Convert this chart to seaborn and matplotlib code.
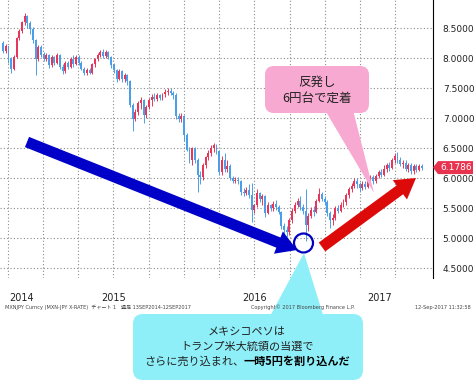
import numpy as np
import pandas as pd
import matplotlib
matplotlib.use("Agg")
import matplotlib.pyplot as plt
import matplotlib.dates as mdates
import matplotlib.ticker as ticker
from matplotlib.patches import FancyBboxPatch, Polygon, Circle, FancyArrow
import seaborn as sns

# MXN/JPY weekly candles
first_week = "2014-09-19"
opens = [8.26, 8.12, 8.20, 8.00, 7.82, 8.02, 8.33, 8.45, 8.60, 8.70,
         8.58, 8.48, 8.30, 7.98, 8.18, 8.05, 7.98, 8.06, 7.88, 8.02,
         7.92, 8.06, 7.86, 7.78, 7.92, 7.85, 7.98, 7.90, 8.02, 7.92,
         7.82, 7.76, 7.80, 7.76, 7.90, 7.98, 8.05, 8.10, 8.04, 8.10,
         8.02, 7.88, 7.80, 7.66, 7.78, 7.66, 7.72, 7.62, 7.22, 6.98,
         7.10, 7.25, 7.30, 7.05, 7.18, 7.30, 7.36, 7.32, 7.38, 7.33,
         7.40, 7.44, 7.46, 7.42, 7.38, 7.04, 6.98, 7.04, 6.72, 6.48,
         6.30, 6.50, 6.30, 6.05, 6.02, 6.22, 6.35, 6.42, 6.50, 6.55,
         6.45, 6.10, 6.30, 6.15, 6.20, 6.00, 5.96, 5.98, 5.95, 5.78,
         5.76, 5.80, 5.72, 5.48, 5.55, 5.76, 5.66, 5.70, 5.42, 5.55,
         5.50, 5.58, 5.52, 5.44, 5.20, 5.14, 5.10, 5.30, 5.46, 5.56,
         5.62, 5.52, 5.46, 5.22, 5.38, 5.48, 5.44, 5.62, 5.74, 5.66,
         5.60, 5.42, 5.30, 5.34, 5.50, 5.46, 5.56, 5.60, 5.72, 5.82,
         5.88, 5.96, 5.90, 5.84, 5.90, 5.86, 5.96, 6.02, 5.96, 6.04,
         6.10, 6.06, 6.16, 6.22, 6.18, 6.30, 6.38, 6.30, 6.24, 6.26,
         6.16, 6.22, 6.12, 6.20, 6.14, 6.20]
highs = [8.28, 8.23, 8.21, 8.02, 8.05, 8.36, 8.48, 8.62, 8.75, 8.72,
         8.62, 8.52, 8.32, 8.22, 8.22, 8.10, 8.08, 8.07, 8.05, 8.04,
         8.08, 8.07, 7.90, 7.95, 7.96, 8.02, 8.05, 8.05, 8.06, 7.95,
         7.85, 7.84, 7.84, 7.92, 8.00, 8.08, 8.14, 8.16, 8.14, 8.12,
         8.04, 7.92, 7.82, 7.82, 7.80, 7.76, 7.74, 7.64, 7.26, 7.15,
         7.28, 7.36, 7.32, 7.22, 7.34, 7.40, 7.42, 7.42, 7.40, 7.42,
         7.48, 7.50, 7.50, 7.46, 7.42, 7.08, 7.08, 7.06, 6.76, 6.52,
         6.52, 6.52, 6.34, 6.12, 6.26, 6.38, 6.47, 6.55, 6.59, 6.57,
         6.48, 6.38, 6.42, 6.30, 6.24, 6.04, 6.02, 6.02, 5.97, 5.84,
         5.86, 5.90, 5.92, 5.58, 5.82, 5.78, 5.74, 5.72, 5.60, 5.58,
         5.62, 5.64, 5.56, 5.46, 5.26, 5.20, 5.34, 5.50, 5.60, 5.68,
         5.70, 5.58, 5.82, 5.42, 5.52, 5.54, 5.66, 5.84, 5.78, 5.70,
         5.64, 5.46, 5.40, 5.54, 5.56, 5.60, 5.66, 5.76, 5.86, 5.92,
         6.00, 6.00, 5.94, 5.95, 5.96, 6.00, 6.06, 6.06, 6.08, 6.14,
         6.15, 6.22, 6.26, 6.28, 6.34, 6.42, 6.44, 6.36, 6.30, 6.30,
         6.26, 6.25, 6.24, 6.24, 6.24, 6.24]
lows = [8.08, 8.08, 7.92, 7.76, 7.80, 8.00, 8.30, 8.42, 8.55, 8.50,
        8.40, 8.25, 7.72, 7.95, 8.02, 7.95, 7.95, 7.84, 7.86, 7.88,
        7.90, 7.82, 7.74, 7.76, 7.82, 7.84, 7.86, 7.88, 7.88, 7.80,
        7.72, 7.72, 7.73, 7.74, 7.86, 7.95, 8.02, 8.00, 8.00, 7.98,
        7.84, 7.76, 7.60, 7.64, 7.60, 7.60, 7.56, 7.18, 6.78, 6.95,
        7.05, 7.16, 6.92, 7.00, 7.15, 7.20, 7.28, 7.28, 7.30, 7.30,
        7.36, 7.38, 7.38, 7.32, 6.98, 6.94, 6.94, 6.62, 6.45, 6.25,
        6.22, 6.25, 5.78, 5.90, 5.98, 6.18, 6.30, 6.38, 6.44, 6.40,
        6.06, 6.05, 6.10, 6.10, 5.97, 5.92, 5.93, 5.90, 5.72, 5.70,
        5.72, 5.68, 5.27, 5.42, 5.52, 5.60, 5.55, 5.35, 5.40, 5.45,
        5.46, 5.48, 5.40, 5.16, 5.08, 5.03, 5.06, 5.26, 5.42, 5.52,
        5.48, 5.40, 4.96, 5.12, 5.34, 5.38, 5.42, 5.60, 5.62, 5.55,
        5.38, 5.18, 5.22, 5.30, 5.42, 5.44, 5.52, 5.56, 5.68, 5.78,
        5.84, 5.84, 5.78, 5.80, 5.82, 5.84, 5.90, 5.90, 5.92, 6.00,
        6.02, 6.04, 6.10, 6.12, 6.16, 6.26, 6.26, 6.20, 6.18, 6.12,
        6.10, 6.08, 6.08, 6.10, 6.12, 6.14]
closes = [8.12, 8.20, 8.00, 7.82, 8.02, 8.33, 8.45, 8.60, 8.70, 8.58,
          8.48, 8.30, 7.98, 8.18, 8.05, 7.98, 8.06, 7.88, 8.02, 7.92,
          8.06, 7.86, 7.78, 7.92, 7.85, 7.98, 7.90, 8.02, 7.92, 7.82,
          7.76, 7.80, 7.76, 7.90, 7.98, 8.05, 8.10, 8.04, 8.10, 8.02,
          7.88, 7.80, 7.66, 7.78, 7.66, 7.72, 7.62, 7.22, 6.98, 7.10,
          7.25, 7.30, 7.05, 7.18, 7.30, 7.36, 7.32, 7.38, 7.33, 7.40,
          7.44, 7.46, 7.42, 7.38, 7.04, 6.98, 7.04, 6.72, 6.48, 6.30,
          6.50, 6.30, 6.05, 6.02, 6.22, 6.35, 6.42, 6.50, 6.55, 6.45,
          6.10, 6.30, 6.15, 6.20, 6.00, 5.96, 5.98, 5.95, 5.78, 5.76,
          5.80, 5.72, 5.48, 5.55, 5.76, 5.66, 5.70, 5.42, 5.55, 5.50,
          5.58, 5.52, 5.44, 5.20, 5.14, 5.10, 5.30, 5.46, 5.56, 5.62,
          5.52, 5.46, 5.22, 5.38, 5.48, 5.44, 5.62, 5.74, 5.66, 5.60,
          5.42, 5.30, 5.34, 5.50, 5.46, 5.56, 5.60, 5.72, 5.82, 5.88,
          5.96, 5.90, 5.84, 5.90, 5.86, 5.96, 6.02, 5.96, 6.04, 6.10,
          6.06, 6.16, 6.22, 6.18, 6.30, 6.38, 6.30, 6.24, 6.26, 6.16,
          6.22, 6.12, 6.20, 6.14, 6.20, 6.18]
last_price = 6.1786
price_ticks = [4.5, 5.0, 5.5, 6.0, 6.5, 7.0, 7.5, 8.0, 8.5]
year_labels = ["2014", "2015", "2016", "2017"]

RED = "#e8365a"
BLUE = "#4a9fe8"

df = pd.DataFrame({"open": opens, "high": highs, "low": lows, "close": closes},
                  index=pd.date_range(first_week, periods=len(closes), freq="7D"))
df["up"] = df["close"] >= df["open"]

sns.set_style("white")
plt.rcParams["font.family"] = ["DejaVu Sans", "Noto Sans CJK JP"]

fig = plt.figure(figsize=(4.76, 3.84), dpi=100)
ax = fig.add_axes([0, 1 - 278 / 384, 433 / 476, 278 / 384])

x = mdates.date2num(df.index)
colors = np.where(df["up"], RED, BLUE)
ax.vlines(x, df["low"], df["high"], colors=colors, lw=0.7, zorder=3)
ax.bar(x, df["close"] - df["open"], bottom=df["open"], width=5,
       color=colors, linewidth=0, zorder=3)

left = pd.Timestamp("2014-09-11")
right = left + pd.Timedelta(days=1122)
ax.set_xlim(mdates.date2num(left), mdates.date2num(right))
ax.set_ylim(4.34, 8.97)

# quarter grid lines, year labels centred on the visible part of each year
quarters = pd.date_range("2014-10-01", "2017-07-01", freq="QS")
ax.set_xticks(mdates.date2num(quarters), minor=True)
bounds = [left] + [pd.Timestamp(f"{y}-01-01") for y in year_labels[1:]] + [right]
mids = [mdates.date2num(bounds[i]) / 2 + mdates.date2num(bounds[i + 1]) / 2
        for i in range(len(year_labels))]
ax.set_xticks(mids)
ax.set_xticklabels(year_labels)
ax.tick_params(axis="x", which="both", length=0, labelsize=7, pad=11,
               labelcolor="#222222")

ax.yaxis.tick_right()
ax.set_yticks(price_ticks)
ax.yaxis.set_minor_locator(ticker.FixedLocator([t + 0.25 for t in price_ticks[:-1]] + [8.75]))
ax.yaxis.set_major_formatter(ticker.StrMethodFormatter("{x:.4f}"))
ax.tick_params(axis="y", which="major", direction="out", length=5, width=1,
               labelsize=6.5, pad=2, colors="black", labelcolor="#222222")
ax.tick_params(axis="y", which="minor", direction="out", length=3, width=0.8)

ax.grid(True, which="major", axis="y", color="#8a8a8a", linestyle=(0, (1, 2)), lw=0.8)
ax.grid(True, which="minor", axis="x", color="#8a8a8a", linestyle=(0, (1, 2)), lw=0.8)
ax.grid(False, which="major", axis="x")
sns.despine(ax=ax, left=True, top=True, bottom=True, right=False)
ax.spines["right"].set_color("black")
ax.spines["right"].set_linewidth(0.8)

# overlay in pixel units for the hand-drawn annotations
ov = fig.add_axes([0, 0, 1, 1], facecolor="none")
ov.set_xlim(0, 476)
ov.set_ylim(384, 0)
ov.axis("off")

# last price tag
tag_y = 384 - ax.transData.transform((x[-1], last_price))[1]
ov.add_patch(Polygon([(433, tag_y), (438, tag_y - 6.5), (473, tag_y - 6.5),
                      (473, tag_y + 6.5), (438, tag_y + 6.5)],
                     closed=True, fc="#e8334f", ec="none"))
ov.text(456, tag_y, f"{last_price:.4f}", ha="center", va="center",
        color="white", fontsize=6.5)

ov.add_patch(FancyArrow(27, 142, 270, 108, width=11, head_width=24, head_length=20,
                        length_includes_head=True, fc="#0000c8", ec="none"))
ov.add_patch(FancyArrow(322, 247, 94, -69, width=11, head_width=24, head_length=20,
                        length_includes_head=True, fc="#dd0a0a", ec="none"))
ov.add_patch(Circle((303.5, 243), 9.5, fill=False, ec="#0000c0", lw=1.6))

pink = "#f8a9d1"
ov.add_patch(FancyBboxPatch((265, 66), 104, 47, boxstyle="round,pad=0,rounding_size=9",
                            fc=pink, ec="none"))
ov.add_patch(Polygon([(325, 110), (353, 110), (374, 193)], closed=True, fc=pink, ec="none"))
ov.text(317, 82, "反発し", ha="center", va="center", fontsize=9,
        family=["Noto Sans CJK JP"], color="#222222")
ov.text(317, 98, "6円台で定着", ha="center", va="center", fontsize=9,
        family=["Noto Sans CJK JP"], color="#222222")

cyan = "#8eeff8"
ov.add_patch(FancyBboxPatch((133, 314), 230, 66, boxstyle="round,pad=0,rounding_size=10",
                            fc=cyan, ec="none"))
ov.add_patch(Polygon([(269, 318), (324, 318), (304, 253)], closed=True, fc=cyan, ec="none"))
jp = ["Noto Sans CJK JP", "DejaVu Sans"]
ov.text(247, 333, "メキシコペソは", ha="center", va="center", fontsize=8, family=jp, color="#222222")
ov.text(247, 347, "トランプ米大統領の当選で", ha="center", va="center", fontsize=8, family=jp,
        color="#222222")
ov.text(244, 361, "さらに売り込まれ、", ha="right", va="center", fontsize=8, family=jp,
        color="#222222")
ov.text(244, 361, "一時5円を割り込んだ", ha="left", va="center", fontsize=8, family=jp,
        fontweight="bold", color="black")

# footer
ov.text(5, 307, "MXNJPY Curncy (MXN-JPY X-RATE)  チャート 1   週足 13SEP2014-12SEP2017",
        ha="left", va="center", fontsize=3.6, color="#444444")
ov.text(251, 307, "Copyright© 2017 Bloomberg Finance L.P.", ha="left", va="center",
        fontsize=3.6, color="#444444")
ov.text(471, 307, "12-Sep-2017 11:32:58", ha="right", va="center", fontsize=3.6,
        color="#444444")

fig.savefig("out.png", dpi=100)
